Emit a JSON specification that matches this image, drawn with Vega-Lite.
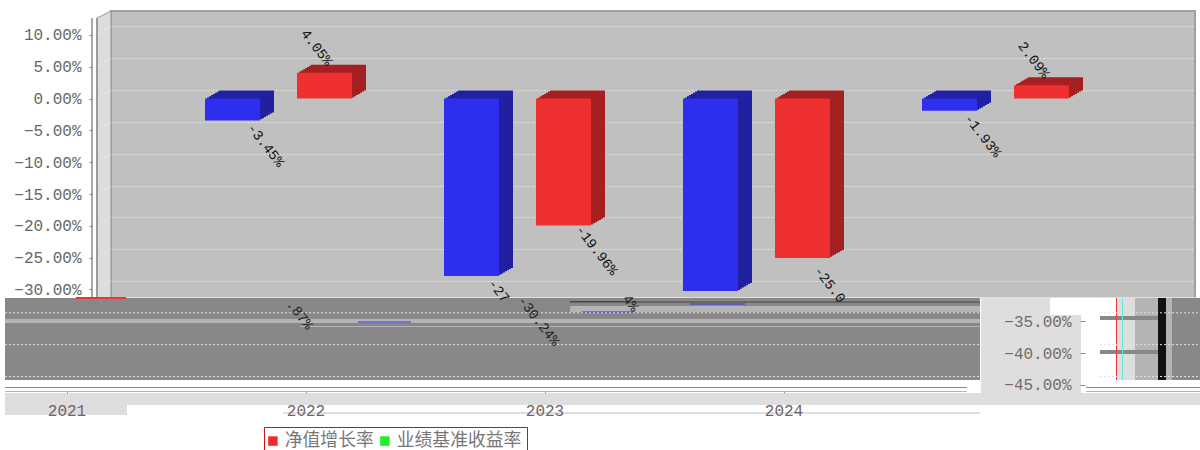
{"$schema":"https://vega.github.io/schema/vega-lite/v6.json","width":1084,"height":366,"autosize":"none","padding":{"left":111,"top":11,"right":5,"bottom":73},"background":"white",
"view":{"fill":"#c0c0c0","stroke":"#a0a0a0","strokeWidth":2},
"config":{"font":"Liberation Mono"},
"datasets":{
"bars":[{"year":"2021","series":"净值增长率","value":-3.45},{"year":"2021","series":"业绩基准收益率","value":4.05},{"year":"2022","series":"净值增长率","value":-27.87},{"year":"2022","series":"业绩基准收益率","value":-19.96},{"year":"2023","series":"净值增长率","value":-30.24},{"year":"2023","series":"业绩基准收益率","value":-25.04},{"year":"2024","series":"净值增长率","value":-1.93},{"year":"2024","series":"业绩基准收益率","value":2.09}],
"wall":[{"u":97,"low":-32.67,"high":11.31},{"u":111,"low":-32.67,"high":12.41}],
"edges":[{"u":92,"low":-32.67,"high":11.31},{"u":97,"low":-32.67,"high":11.31}],
"sidegrid":[{"at":10,"front":8.67},{"at":5,"front":3.67},{"at":0,"front":-1.33},{"at":-5,"front":-6.33},{"at":-10,"front":-11.33},{"at":-15,"front":-16.33},{"at":-20,"front":-21.33},{"at":-25,"front":-26.33},{"at":-30,"front":-31.33}],
"tear":[
{"a":0,"b":1200,"low":-45.7,"high":-32.6,"tone":"white"},
{"a":5,"b":980,"low":-45.55,"high":-32.67,"tone":"dark"},
{"a":981,"b":1050,"low":-49.47,"high":-32.67,"tone":"pale"},
{"a":1050,"b":1081,"low":-49.47,"high":-35.34,"tone":"pale"},
{"a":5,"b":1200,"low":-49.47,"high":-47.59,"tone":"pale"},
{"a":5,"b":127,"low":-51.05,"high":-49.47,"tone":"pale"},
{"a":283,"b":980,"low":-50.89,"high":-50.57,"tone":"pale"},
{"a":5,"b":967,"low":-46.8,"high":-46.65,"tone":"dark"},
{"a":5,"b":967,"low":-47.43,"high":-47.28,"tone":"mid"},
{"a":1086,"b":1200,"low":-46.8,"high":-46.65,"tone":"dark"},
{"a":1086,"b":1200,"low":-47.43,"high":-47.28,"tone":"mid"},
{"a":5,"b":980,"low":-36.6,"high":-35.97,"tone":"mid"},
{"a":300,"b":980,"low":-37.22,"high":-37.07,"tone":"mid"},
{"a":570,"b":980,"low":-33.45,"high":-33.14,"tone":"deep"},
{"a":570,"b":980,"low":-34.87,"high":-33.92,"tone":"mid"},
{"a":1116,"b":1135,"low":-45.55,"high":-32.67,"tone":"pale"},
{"a":1135,"b":1158,"low":-45.55,"high":-32.67,"tone":"mid"},
{"a":1158,"b":1166,"low":-45.55,"high":-32.67,"tone":"black"},
{"a":1166,"b":1172,"low":-45.55,"high":-32.67,"tone":"mid"},
{"a":1172,"b":1200,"low":-45.55,"high":-32.67,"tone":"dark"},
{"a":1100,"b":1158,"low":-36.12,"high":-35.5,"tone":"dark"},
{"a":1100,"b":1158,"low":-41.46,"high":-40.84,"tone":"dark"},
{"a":1116,"b":1117,"low":-45.55,"high":-32.67,"tone":"red"},
{"a":1122,"b":1123,"low":-45.55,"high":-32.67,"tone":"cyan"},
{"a":76,"b":126,"low":-32.83,"high":-32.51,"tone":"red"},
{"a":358,"b":411,"low":-36.52,"high":-36.36,"tone":"blue"},
{"a":570,"b":630,"low":-33.3,"high":-33.14,"tone":"blue"},
{"a":690,"b":745,"low":-33.69,"high":-33.53,"tone":"blue"},
{"a":582,"b":635,"low":-34.95,"high":-34.79,"tone":"blue"}],
"lowgrid":[{"a":5,"b":980,"at":-35},{"a":5,"b":980,"at":-40},{"a":5,"b":980,"at":-45},{"a":1100,"b":1200,"at":-35},{"a":1100,"b":1200,"at":-40},{"a":1100,"b":1200,"at":-45}],
"labels":[{"year":"2021","series":"净值增长率","value":-3.45,"text":"-3.45%"},{"year":"2021","series":"业绩基准收益率","value":4.05,"text":"4.05%"},{"year":"2022","series":"业绩基准收益率","value":-19.96,"text":"-19.96%"},{"year":"2024","series":"净值增长率","value":-1.93,"text":"-1.93%"},{"year":"2024","series":"业绩基准收益率","value":2.09,"text":"2.09%"}],
"torn_upper":[{"year":"2022","series":"净值增长率","at":-31.57,"text":"-27"},{"year":"2023","series":"业绩基准收益率","at":-30.6,"text":"-25.0"}],
"torn_lower":[{"year":"2022","series":"净值增长率","at":-35.3,"text":".87%"},{"year":"2023","series":"净值增长率","at":-36.3,"text":"-30.24%"},{"year":"2023","series":"业绩基准收益率","at":-33.5,"text":"4%"}]
},
"resolve":{"scale":{"x":"independent","color":"independent"},"axis":{"x":"independent","y":"independent"}},
"layer":[
{"data":{"values":[{"tick":10},{"tick":-30}]},"mark":{"type":"tick","opacity":0},"encoding":{"y":{"field":"tick","type":"quantitative","scale":{"domain":[-45.08,12.41],"nice":false,"zero":false},"axis":{"title":null,"values":[-30,-25,-20,-15,-10,-5,0,5,10],"orient":"left","domain":false,"grid":true,"ticks":false,"labels":false,"gridColor":"#e4e4e4","gridDash":[2,2],"gridWidth":1}}}},
{"data":{"name":"wall"},"mark":{"type":"area","orient":"vertical","color":"#dcdcdc","stroke":"#999999","strokeWidth":1},"encoding":{"x":{"field":"u","type":"quantitative","scale":{"domain":[0,1200],"range":[-111,1089]},"axis":null},"y":{"field":"low","type":"quantitative","axis":null},"y2":{"field":"high"}}},
{"data":{"name":"sidegrid"},"mark":{"type":"rule","color":"#f0f0f0","strokeDash":[2,2],"strokeWidth":1},"encoding":{"x":{"datum":97,"type":"quantitative","scale":{"domain":[0,1200],"range":[-111,1089]},"axis":null},"x2":{"datum":111},"y":{"field":"front","type":"quantitative","axis":null},"y2":{"field":"at"}}},
{"data":{"name":"edges"},"mark":{"type":"rule","color":"#8c8c8c","strokeWidth":1.5},"encoding":{"x":{"field":"u","type":"quantitative","scale":{"domain":[0,1200],"range":[-111,1089]},"axis":null},"y":{"field":"low","type":"quantitative","axis":{"title":null,"values":[-30,-25,-20,-15,-10,-5,0,5,10],"orient":"left","offset":19,"domain":false,"grid":false,"zindex":1,"tickSize":3,"tickColor":"#888888","tickOffset":8.5,"labelPadding":8,"labelFont":"Liberation Mono","labelFontSize":16,"labelColor":"#666666","labelExpr":"format(datum.value,'.2f')+'%'"}},"y2":{"field":"high"}}},
{"data":{"name":"tear"},"mark":{"type":"rect"},"encoding":{"x":{"field":"a","type":"quantitative","scale":{"domain":[0,1200],"range":[-111,1089]},"axis":null},"x2":{"field":"b"},"y":{"field":"low","type":"quantitative","axis":null},"y2":{"field":"high"},"color":{"field":"tone","type":"nominal","legend":null,"sort":null,"scale":{"domain":["white","dark","pale","mid","deep","black","red","cyan","blue"],"range":["#ffffff","#888888","#dedede","#b4b4b4","#666666","#111111","#ee3333","#66e6e6","#3333ee"]}}}},
{"data":{"name":"lowgrid"},"mark":{"type":"rule","color":"#e8e0e0","strokeWidth":1,"strokeDash":[2,2]},"encoding":{"x":{"field":"a","type":"quantitative","scale":{"domain":[0,1200],"range":[-111,1089]},"axis":null},"x2":{"field":"b"},"y":{"field":"at","type":"quantitative","axis":null}}},
{"data":{"name":"bars"},"mark":{"type":"bar","width":55,"yOffset":0.5},"encoding":{"x":{"field":"year","type":"nominal","scale":{"range":[62,1018],"paddingInner":0,"paddingOuter":0},"axis":null},"xOffset":{"field":"series","sort":null,"scale":{"domain":["净值增长率","业绩基准收益率"],"paddingInner":0,"paddingOuter":0.299}},"y":{"field":"value","type":"quantitative","axis":null},"color":{"field":"series","legend":null,"scale":{"domain":["净值增长率","业绩基准收益率"],"range":["#2020a0","#a52020"]}}}},
{"data":{"name":"bars"},"mark":{"type":"bar","width":55,"yOffset":1.6},"encoding":{"x":{"field":"year","type":"nominal","scale":{"range":[60,1016],"paddingInner":0,"paddingOuter":0},"axis":null},"xOffset":{"field":"series","sort":null},"y":{"field":"value","type":"quantitative","axis":null},"color":{"field":"series","legend":null,"scale":{"domain":["净值增长率","业绩基准收益率"],"range":["#2020a0","#a52020"]}}}},
{"data":{"name":"bars"},"mark":{"type":"bar","width":55,"yOffset":2.8},"encoding":{"x":{"field":"year","type":"nominal","scale":{"range":[58,1014],"paddingInner":0,"paddingOuter":0},"axis":null},"xOffset":{"field":"series","sort":null},"y":{"field":"value","type":"quantitative","axis":null},"color":{"field":"series","legend":null,"scale":{"domain":["净值增长率","业绩基准收益率"],"range":["#2020a0","#a52020"]}}}},
{"data":{"name":"bars"},"mark":{"type":"bar","width":55,"yOffset":3.9},"encoding":{"x":{"field":"year","type":"nominal","scale":{"range":[56,1012],"paddingInner":0,"paddingOuter":0},"axis":null},"xOffset":{"field":"series","sort":null},"y":{"field":"value","type":"quantitative","axis":null},"color":{"field":"series","legend":null,"scale":{"domain":["净值增长率","业绩基准收益率"],"range":["#2020a0","#a52020"]}}}},
{"data":{"name":"bars"},"mark":{"type":"bar","width":55,"yOffset":5.1},"encoding":{"x":{"field":"year","type":"nominal","scale":{"range":[54,1010],"paddingInner":0,"paddingOuter":0},"axis":null},"xOffset":{"field":"series","sort":null},"y":{"field":"value","type":"quantitative","axis":null},"color":{"field":"series","legend":null,"scale":{"domain":["净值增长率","业绩基准收益率"],"range":["#2020a0","#a52020"]}}}},
{"data":{"name":"bars"},"mark":{"type":"bar","width":55,"yOffset":6.2},"encoding":{"x":{"field":"year","type":"nominal","scale":{"range":[52,1008],"paddingInner":0,"paddingOuter":0},"axis":null},"xOffset":{"field":"series","sort":null},"y":{"field":"value","type":"quantitative","axis":null},"color":{"field":"series","legend":null,"scale":{"domain":["净值增长率","业绩基准收益率"],"range":["#2020a0","#a52020"]}}}},
{"data":{"name":"bars"},"mark":{"type":"bar","width":55,"yOffset":7.4},"encoding":{"x":{"field":"year","type":"nominal","scale":{"range":[50,1006],"paddingInner":0,"paddingOuter":0},"axis":null},"xOffset":{"field":"series","sort":null},"y":{"field":"value","type":"quantitative","axis":null},"color":{"field":"series","legend":null,"scale":{"domain":["净值增长率","业绩基准收益率"],"range":["#2020a0","#a52020"]}}}},
{"data":{"name":"bars"},"mark":{"type":"bar","width":55,"yOffset":8.5},"encoding":{"x":{"field":"year","type":"nominal","title":null,"scale":{"range":[48,1004],"paddingInner":0,"paddingOuter":0},"axis":{"title":null,"labelAngle":0,"offset":14,"domain":false,"zindex":1,"tickSize":2,"tickColor":"#999999","tickOffset":-212,"labelPadding":9,"labelFont":"Liberation Mono","labelFontSize":16,"labelColor":"#6e6466"}},"xOffset":{"field":"series","sort":null},"y":{"field":"value","type":"quantitative","axis":null},"color":{"field":"series","legend":null,"scale":{"domain":["净值增长率","业绩基准收益率"],"range":["#2e2eee","#ee3030"]}}}},
{"data":{"name":"labels"},"transform":[{"filter":"datum.value<0"}],"mark":{"type":"text","angle":52,"font":"Liberation Mono","fontSize":14,"color":"#111111","yOffset":33.5},"encoding":{"x":{"field":"year","type":"nominal","scale":{"domain":["2021","2022","2023","2024"],"range":[81,1037],"paddingInner":0,"paddingOuter":0},"axis":null},"xOffset":{"field":"series","sort":null},"y":{"field":"value","type":"quantitative","axis":null},"text":{"field":"text"}}},
{"data":{"name":"labels"},"transform":[{"filter":"datum.value>0"}],"mark":{"type":"text","angle":52,"font":"Liberation Mono","fontSize":14,"color":"#111111","yOffset":-16.5},"encoding":{"x":{"field":"year","type":"nominal","scale":{"domain":["2021","2022","2023","2024"],"range":[40,996],"paddingInner":0,"paddingOuter":0},"axis":null},"xOffset":{"field":"series","sort":null},"y":{"field":"value","type":"quantitative","axis":null},"text":{"field":"text"}}},
{"data":{"name":"torn_upper"},"mark":{"type":"text","angle":52,"font":"Liberation Mono","fontSize":14,"color":"#111111"},"encoding":{"x":{"field":"year","type":"nominal","scale":{"domain":["2021","2022","2023","2024"],"range":[75,1031],"paddingInner":0,"paddingOuter":0},"axis":null},"xOffset":{"field":"series","sort":null},"y":{"field":"at","type":"quantitative","axis":null},"text":{"field":"text"}}},
{"data":{"name":"torn_lower"},"mark":{"type":"text","angle":52,"font":"Liberation Mono","fontSize":14,"color":"#222222"},"encoding":{"x":{"field":"year","type":"nominal","scale":{"domain":["2021","2022","2023","2024"],"range":[-124,832],"paddingInner":0,"paddingOuter":0},"axis":null},"xOffset":{"field":"series","sort":null},"y":{"field":"at","type":"quantitative","axis":null},"text":{"field":"text"}}},
{"data":{"values":[{"tick":-35},{"tick":-40},{"tick":-45}]},"mark":{"type":"tick","opacity":0},"encoding":{"y":{"field":"tick","type":"quantitative","axis":{"title":null,"values":[-35,-40,-45],"orient":"left","offset":-974,"domain":false,"grid":false,"zindex":1,"tickSize":5,"tickColor":"#888888","tickOffset":8.5,"labelPadding":9,"labelFont":"Liberation Mono","labelFontSize":16,"labelColor":"#776a6a","labelExpr":"format(datum.value,'.2f')+'%'"}}}},
{"data":{"name":"bars"},"mark":{"type":"point","filled":true,"shape":"square","opacity":0},"encoding":{"y":{"field":"value","type":"quantitative","axis":null},"color":{"field":"series","sort":null,"scale":{"domain":["净值增长率","业绩基准收益率"],"range":["#ee2a2a","#22ee22"]},"legend":{"title":null,"orient":"none","legendX":153,"legendY":416,"direction":"horizontal","columns":2,"padding":5,"fillColor":"white","strokeColor":"#d01010","symbolType":"square","symbolSize":90,"symbolOpacity":1,"symbolStrokeWidth":0,"symbolOffset":-5,"labelFont":"Noto Sans CJK SC","labelFontSize":17.8,"labelColor":"#777777","labelLimit":200,"labelOffset":3,"columnPadding":6}}}}
]}
